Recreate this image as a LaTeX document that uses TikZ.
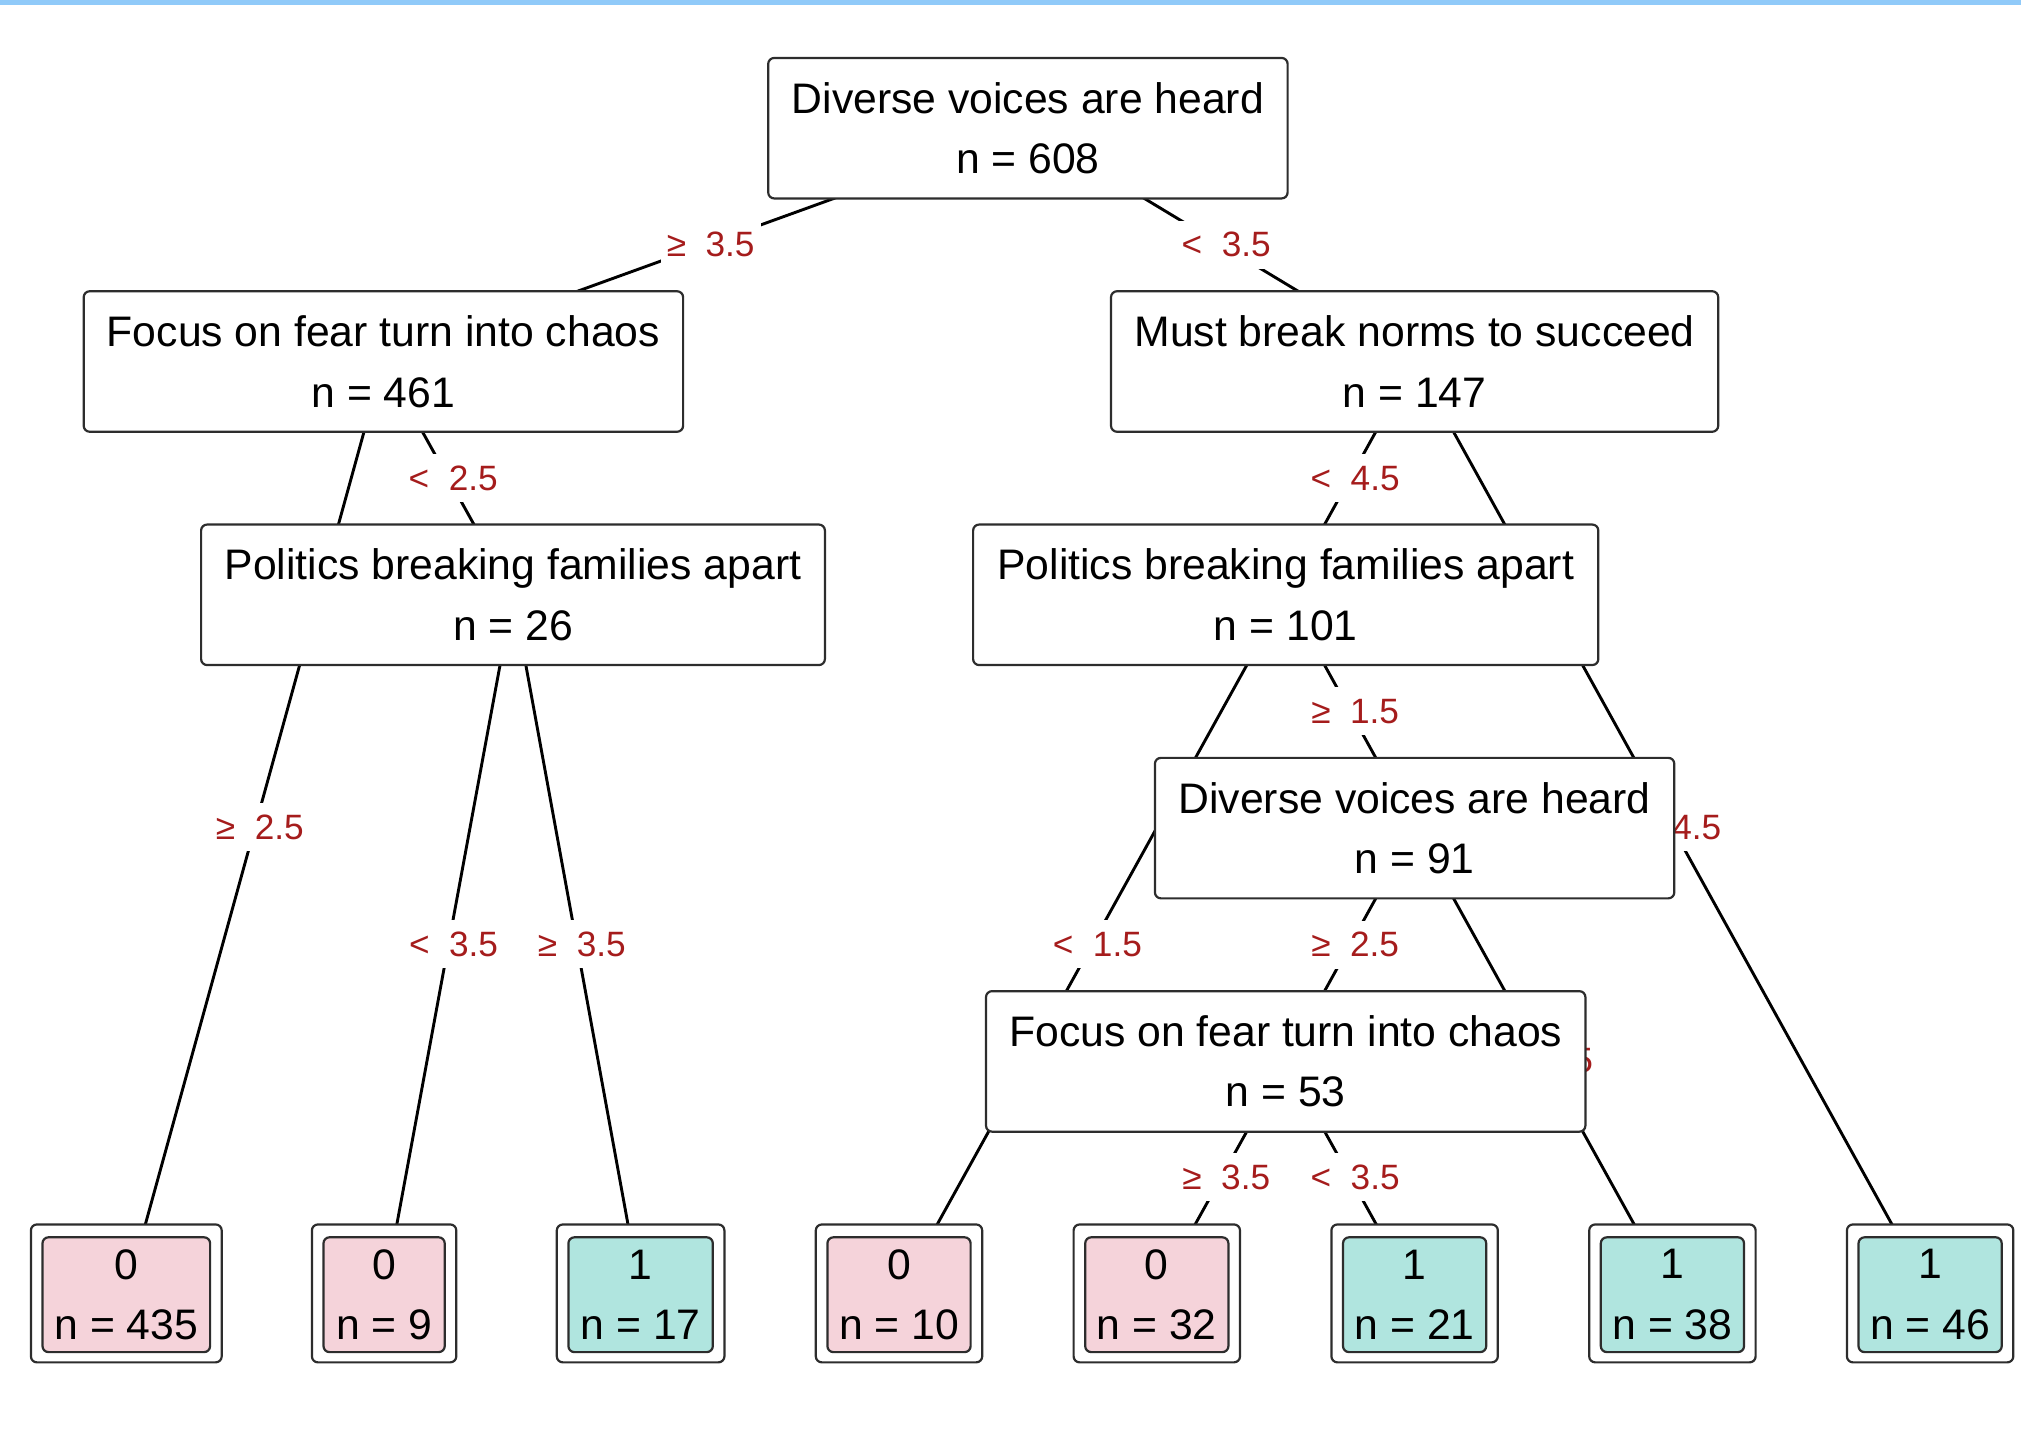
\documentclass[tikz,border=0pt]{standalone}
\usepackage{fontspec}
\setmainfont{Liberation Sans}
\usetikzlibrary{backgrounds}

\definecolor{splitred}{RGB}{165,28,28}
\definecolor{leafpink}{RGB}{245,211,218}
\definecolor{leafteal}{RGB}{176,229,223}
\definecolor{topbar}{RGB}{144,202,249}
\definecolor{boxline}{RGB}{45,45,45}

\tikzset{
  boxfont/.style={font=\fontsize{21.35}{30.3}\selectfont},
  splitbox/.style={boxfont, draw=boxline, line width=1.1pt, fill=white,
    rounded corners=3pt, minimum height=70.25pt, inner xsep=2pt, align=center},
  leafout/.style={draw=boxline, line width=1.1pt, fill=white,
    rounded corners=3pt, minimum height=68.95pt, inner sep=0pt},
  leafin/.style={boxfont, draw=boxline, line width=1.1pt,
    rounded corners=3pt, minimum height=57.4pt, inner xsep=2pt, align=center},
  pinkleaf/.style={leafin, fill=leafpink},
  tealleaf/.style={leafin, fill=leafteal},
  link/.style={line width=1.45pt, black},
  lbl/.style={fill=white, text=splitred, font=\fontsize{17.6}{20}\selectfont,
    inner xsep=3pt, inner ysep=0pt, minimum height=24pt, midway, xshift=2.5pt}
}

\begin{document}
\begin{tikzpicture}[x=0.5pt, y=-0.5pt]
\useasboundingbox (0,0) rectangle (2021,1428);
\fill[topbar] (0,0) rectangle (2021,5);

% split nodes
\node[splitbox, minimum width=259.7pt] (root) at (1027.9,128.2) {Diverse voices are heard\\n = 608};
\node[splitbox, minimum width=299.7pt] (fearA) at (383.4,361.5) {Focus on fear turn into chaos\\n = 461};
\node[splitbox, minimum width=303.6pt] (norms) at (1414.6,361.5) {Must break norms to succeed\\n = 147};
\node[splitbox, minimum width=311.9pt] (politA) at (513,594.8) {Politics breaking families apart\\n = 26};
\node[splitbox, minimum width=312.6pt] (politB) at (1285.7,594.8) {Politics breaking families apart\\n = 101};
\node[splitbox, minimum width=259.7pt] (voices) at (1414.6,828.1) {Diverse voices are heard\\n = 91};
\node[splitbox, minimum width=299.7pt] (fearB) at (1285.7,1061.4) {Focus on fear turn into chaos\\n = 53};

% leaves: white frame with a filled inner box
\node[leafout, minimum width=95.4pt] (leafA) at (126.3,1293.4) {};
\node[pinkleaf, minimum width=83.8pt] (leafAi) at (126.3,1294.7) {0\\n = 435};
\node[leafout, minimum width=72.2pt] (leafB) at (384.1,1293.4) {};
\node[pinkleaf, minimum width=60.6pt] (leafBi) at (384.1,1294.7) {0\\n = 9};
\node[leafout, minimum width=83.8pt] (leafC) at (640.6,1293.4) {};
\node[tealleaf, minimum width=72.2pt] (leafCi) at (640.6,1294.7) {1\\n = 17};
\node[leafout, minimum width=83.2pt] (leafD) at (899,1293.4) {};
\node[pinkleaf, minimum width=71.6pt] (leafDi) at (899,1294.7) {0\\n = 10};
\node[leafout, minimum width=83.2pt] (leafE) at (1156.8,1293.4) {};
\node[pinkleaf, minimum width=71.6pt] (leafEi) at (1156.8,1294.7) {0\\n = 32};
\node[leafout, minimum width=83.2pt] (leafF) at (1414.6,1293.4) {};
\node[tealleaf, minimum width=71.6pt] (leafFi) at (1414.6,1294.7) {1\\n = 21};
\node[leafout, minimum width=83.2pt] (leafG) at (1672.4,1293.4) {};
\node[tealleaf, minimum width=71.6pt] (leafGi) at (1672.4,1294.7) {1\\n = 38};
\node[leafout, minimum width=83.2pt] (leafH) at (1930.1,1293.4) {};
\node[tealleaf, minimum width=71.6pt] (leafHi) at (1930.1,1294.7) {1\\n = 46};

% branches run centre to centre, behind the boxes; split labels sit on them
\begin{pgfonlayer}{background}
  \draw[link] (root.center) -- (fearA.center);
  \draw[link] (root.center) -- (norms.center);
  \draw[link] (fearA.center) -- (leafA.center);
  \draw[link] (fearA.center) -- (politA.center);
  \draw[link] (politA.center) -- (leafB.center);
  \draw[link] (politA.center) -- (leafC.center);
  \draw[link] (norms.center) -- (politB.center);
  \draw[link] (norms.center) -- (leafH.center);
  \draw[link] (politB.center) -- (leafD.center);
  \draw[link] (politB.center) -- (voices.center);
  \draw[link] (voices.center) -- (fearB.center);
  \draw[link] (voices.center) -- (leafG.center);
  \draw[link] (fearB.center) -- (leafE.center);
  \draw[link] (fearB.center) -- (leafF.center);

  \path (root.center) -- (fearA.center) node[lbl] (s1) {≥~~3.5};
  \path (root.center) -- (norms.center) node[lbl] (s2) {<~~3.5};
  \path (fearA.center) -- (leafA.center) node[lbl] (s3) {≥~~2.5};
  \path (fearA.center) -- (politA.center) node[lbl] (s4) {<~~2.5};
  \path (politA.center) -- (leafB.center) node[lbl] (s5) {<~~3.5};
  \path (politA.center) -- (leafC.center) node[lbl] (s6) {≥~~3.5};
  \path (norms.center) -- (politB.center) node[lbl] (s7) {<~~4.5};
  \path (norms.center) -- (leafH.center) node[lbl] (s8) {≥~~4.5};
  \path (politB.center) -- (leafD.center) node[lbl] (s9) {<~~1.5};
  \path (politB.center) -- (voices.center) node[lbl] (s10) {≥~~1.5};
  \path (voices.center) -- (fearB.center) node[lbl] (s11) {≥~~2.5};
  \path (voices.center) -- (leafG.center) node[lbl] (s12) {<~~2.5};
  \path (fearB.center) -- (leafE.center) node[lbl] (s13) {≥~~3.5};
  \path (fearB.center) -- (leafF.center) node[lbl] (s14) {<~~3.5};
\end{pgfonlayer}
\end{tikzpicture}
\end{document}
